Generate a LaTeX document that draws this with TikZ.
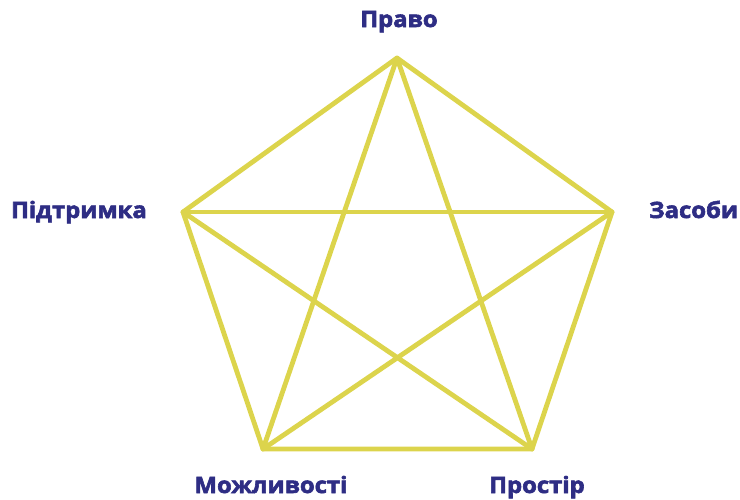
\documentclass[tikz,border=0pt]{standalone}
\usepackage{graphicx}
\usepackage{fontspec}
\setmainfont{Open Sans}
\newfontfamily\labfont{Open Sans}[BoldFeatures={FakeBold=2.5}]
\definecolor{lineyel}{HTML}{DCD44C}
\definecolor{labblue}{HTML}{2E2D84}
\newcommand{\lbltxt}[1]{\scalebox{1.06}[1]{#1}}
\begin{document}
\begin{tikzpicture}[x=1pt,y=-1pt,
  edge/.style={draw=lineyel,line width=4.8pt,line cap=round,line join=round},
  lab/.style={text=labblue,font=\labfont\fontsize{22.5}{26}\selectfont\bfseries,inner sep=0pt}]
\useasboundingbox (0,0) rectangle (740,499);
\coordinate (T) at (397,58);
\coordinate (L) at (183,212);
\coordinate (R) at (612,212);
\coordinate (BL) at (263,449);
\coordinate (BR) at (532,449);
\draw[edge] (T) -- (R) -- (BR) -- (BL) -- (L) -- cycle;
\draw[edge] (T) -- (BL);
\draw[edge] (T) -- (BR);
\draw[edge] (L) -- (R);
\draw[edge] (L) -- (BR);
\draw[edge] (R) -- (BL);
\node[lab,anchor=base] (nT) at (399,27) {\lbltxt{Право}};
\node[lab,anchor=base east] (nL) at (147,218) {\lbltxt{Підтримка}};
\node[lab,anchor=base west] (nR) at (649,218) {\lbltxt{Засоби}};
\node[lab,anchor=base] (nBL) at (271,493) {\lbltxt{Можливості}};
\node[lab,anchor=base] (nBR) at (537,493) {\lbltxt{Простір}};
\end{tikzpicture}
\end{document}
